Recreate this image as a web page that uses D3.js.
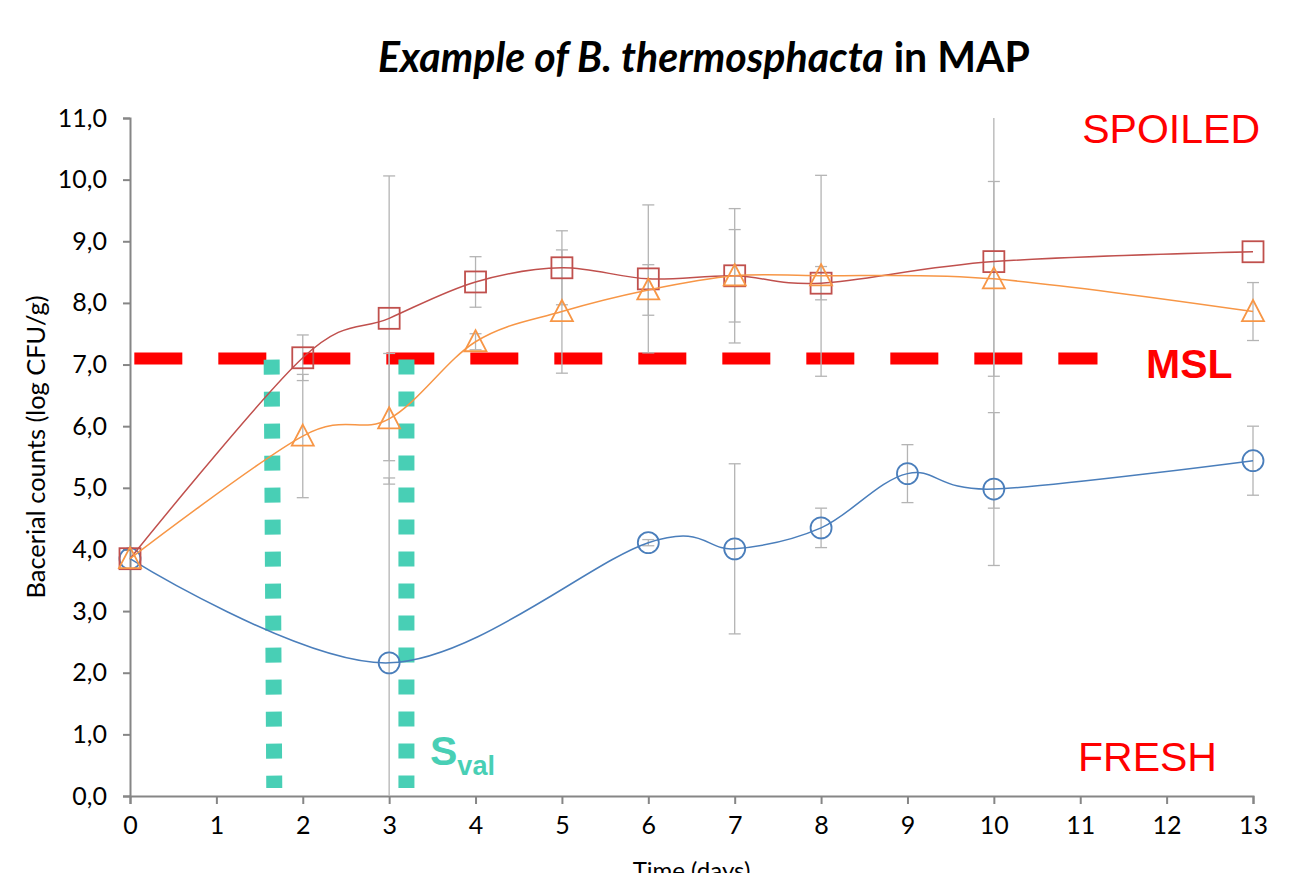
<!DOCTYPE html>
<html>
<head>
<meta charset="utf-8">
<script src="https://cdn.jsdelivr.net/npm/d3@7"></script>
<style>
  body { margin: 0; background: #fff; }
  svg { display: block; }
</style>
</head>
<body>
<script>
// data
var days = [0, 2, 3, 4, 5, 6, 7, 8, 9, 10, 13];
var xTicks = [0, 1, 2, 3, 4, 5, 6, 7, 8, 9, 10, 11, 12, 13];
var yTicks = [0, 1, 2, 3, 4, 5, 6, 7, 8, 9, 10, 11];

var blueVals   = [3.85, null, 2.16, null, null, 4.11, 4.01, 4.35, 5.23, 4.98, 5.44];
var blueErr    = [0,    null, 3.00, null, null, 0.05, 1.38, 0.32, 0.47, 1.24, 0.56];
var redVals    = [3.85, 7.11, 7.75, 8.34, 8.57, 8.39, 8.44, 8.32, null, 8.67, 8.83];
var redErr     = [0,    0.37, 2.31, 0.41, 0.60, 1.20, 1.09, 0.27, null, 4.00, 0];
var orangeVals = [3.85, 5.84, 6.12, 7.37, 7.86, 8.21, 8.44, 8.44, null, 8.39, 7.86];
var orangeErr  = [0,    1.00, 1.06, 0.13, 1.00, 0.41, 0.75, 1.63, null, 1.58, 0.47];

var mslValue = 7.1;
var mslRange = [0.05, 11.2];
var svalLines = [[1.64, 1.67], [3.2, 3.2]];
var svalRange = [7.08, 0.13];

var width = 1297, height = 873;
var margin = {top: 118, right: 44, bottom: 77, left: 130};
var innerW = width - margin.left - margin.right,
    innerH = height - margin.top - margin.bottom;

var svg = d3.select("body").append("svg")
    .attr("width", width)
    .attr("height", height);

var x = d3.scaleLinear().domain([0, 13]).range([0, innerW]);
var y = d3.scaleLinear().domain([0, 11]).range([innerH, 0]);

svg.append("defs").append("clipPath").attr("id", "plot")
    .append("rect").attr("x", -10).attr("y", 0).attr("width", innerW + 20).attr("height", innerH);

var g = svg.append("g")
    .attr("transform", "translate(" + margin.left + "," + margin.top + ")");

var font = "Lato, 'Open Sans', sans-serif";

// title
var title = svg.append("text")
    .attr("x", 704).attr("y", 72)
    .attr("text-anchor", "middle")
    .style("font-family", font)
    .style("font-weight", "bold")
    .style("font-size", "32px");
title.append("tspan").style("font-style", "italic").text("Example of B. thermosphacta");
title.append("tspan").text(" in MAP");
var tw = title.node().getComputedTextLength();
title.style("font-size", (32 * 652 / tw) + "px");

// axes
var axisColor = "#868686";
var xAxis = g.append("g")
    .attr("transform", "translate(0," + innerH + ")")
    .call(d3.axisBottom(x).tickValues(xTicks).tickSize(8).tickPadding(12).tickFormat(d3.format("d")));
var yAxis = g.append("g")
    .call(d3.axisLeft(y).tickValues(yTicks).tickSize(7).tickPadding(16)
        .tickFormat(function (d) { return d.toFixed(1).replace(".", ","); }));
[xAxis, yAxis].forEach(function (a) {
    a.select(".domain").attr("stroke", axisColor).attr("stroke-width", 2);
    a.selectAll(".tick line").attr("stroke", axisColor).attr("stroke-width", 2);
    a.selectAll("text")
        .style("font-family", font)
        .style("font-size", "25px")
        .attr("fill", "#000");
});

var yTitle = svg.append("text")
    .attr("transform", "translate(45," + (margin.top + innerH / 2 - 10) + ") rotate(-90)")
    .attr("text-anchor", "middle")
    .style("font-family", font)
    .style("font-size", "20px")
    .text("Bacerial counts (log CFU/g)");
var yw = yTitle.node().getComputedTextLength();
yTitle.style("font-size", (20 * 303 / yw) + "px");

svg.append("text")
    .attr("x", margin.left + x(6.5)).attr("y", 879)
    .attr("text-anchor", "middle")
    .style("font-family", font)
    .style("font-size", "24px")
    .text("Time (days)");

// MSL dashed line
g.append("line")
    .attr("x1", x(mslRange[0])).attr("x2", x(mslRange[1]))
    .attr("y1", y(mslValue)).attr("y2", y(mslValue))
    .attr("stroke", "#ff0000")
    .attr("stroke-width", 12)
    .attr("stroke-dasharray", "48,36");

// Sval dotted lines
svalLines.forEach(function (s) {
    g.append("line")
        .attr("x1", x(s[0])).attr("x2", x(s[1]))
        .attr("y1", y(svalRange[0])).attr("y2", y(svalRange[1]))
        .attr("stroke", "#48cfb5")
        .attr("stroke-width", 16)
        .attr("stroke-dasharray", "15,17");
});

// series
var series = [
    {vals: blueVals, err: blueErr, color: "#4a7ebb", shape: "circle"},
    {vals: redVals, err: redErr, color: "#c0504d", shape: "square"},
    {vals: orangeVals, err: orangeErr, color: "#f79646", shape: "triangle"}
];

function points(s) {
    return days.map(function (d, i) { return {t: d, v: s.vals[i], e: s.err[i]}; })
        .filter(function (p) { return p.v !== null; });
}

// error bars
var eb = g.append("g").attr("clip-path", "url(#plot)");
series.forEach(function (s) {
    points(s).filter(function (p) { return p.e > 0; }).forEach(function (p) {
        var cx = x(p.t), y1 = y(p.v + p.e), y2 = y(p.v - p.e);
        eb.append("line").attr("x1", cx).attr("x2", cx).attr("y1", y1).attr("y2", y2)
            .attr("stroke", "#b4b4b4").attr("stroke-width", 1.3);
        [y1, y2].forEach(function (yy) {
            eb.append("line").attr("x1", cx - 6).attr("x2", cx + 6).attr("y1", yy).attr("y2", yy)
                .attr("stroke", "#b4b4b4").attr("stroke-width", 1.3);
        });
    });
});

var line = d3.line()
    .x(function (p) { return x(p.t); })
    .y(function (p) { return y(p.v); })
    .curve(d3.curveCatmullRom.alpha(0));

series.forEach(function (s) {
    var pts = points(s);
    g.append("path")
        .datum(pts)
        .attr("d", line)
        .attr("fill", "none")
        .attr("stroke", s.color)
        .attr("stroke-width", 1.5);

    var mk = g.append("g");
    pts.forEach(function (p) {
        var cx = x(p.t), cy = y(p.v);
        if (s.shape === "circle") {
            mk.append("circle").attr("cx", cx).attr("cy", cy).attr("r", 10.5);
        } else if (s.shape === "square") {
            mk.append("rect").attr("x", cx - 10.5).attr("y", cy - 10.5).attr("width", 21).attr("height", 21);
        } else {
            mk.append("path").attr("d", "M" + cx + "," + (cy - 11.5) + "L" + (cx + 11) + "," + (cy + 9.5) + "L" + (cx - 11) + "," + (cy + 9.5) + "Z");
        }
    });
    mk.selectAll("*").attr("fill", "none").attr("stroke", s.color).attr("stroke-width", 1.8);
});

// annotations
var arial = "'Liberation Sans', Arial, sans-serif";
svg.append("text").attr("x", 1260).attr("y", 143).attr("text-anchor", "end")
    .style("font-family", arial).style("font-size", "41px").attr("fill", "#ff0000").text("SPOILED");
svg.append("text").attr("x", 1078).attr("y", 771)
    .style("font-family", arial).style("font-size", "41px").attr("fill", "#ff0000").text("FRESH");
svg.append("text").attr("x", 1146).attr("y", 378)
    .style("font-family", arial).style("font-size", "41px").style("font-weight", "bold")
    .attr("fill", "#ff0000").text("MSL");
var sv = svg.append("text").attr("x", 430).attr("y", 765)
    .style("font-family", arial).style("font-weight", "bold").attr("fill", "#48cfb5");
sv.append("tspan").style("font-size", "41px").text("S");
sv.append("tspan").attr("dy", 10).style("font-size", "27px").text("val");
</script>
</body>
</html>
